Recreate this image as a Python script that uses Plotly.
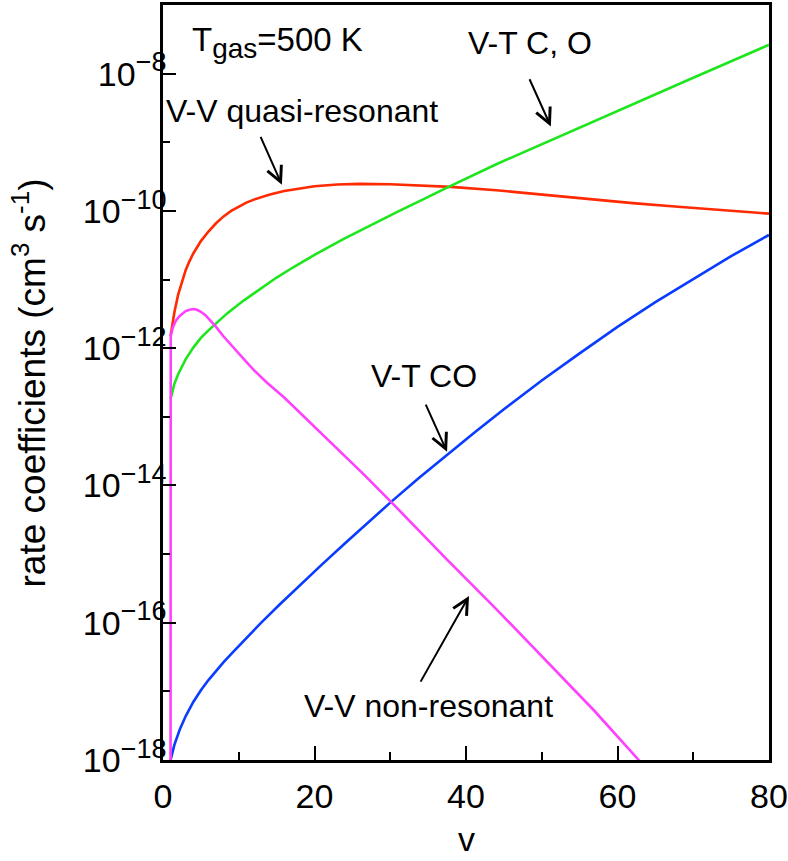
import plotly.graph_objects as go

# ---------------- data ----------------
v_vvq = [1, 1.5, 2, 2.5, 3, 3.5, 4, 5, 6, 7, 8, 9, 10, 11, 12, 14, 16, 18, 20, 23, 26,
         30, 34, 38, 44, 50, 56, 62, 68, 74, 80]
k_vvq = [1.51e-12, 3.31e-12, 6.03e-12, 9.55e-12, 1.38e-11, 1.86e-11, 2.40e-11, 3.63e-11,
         5.01e-11, 6.61e-11, 8.32e-11, 1.0e-10, 1.16e-10, 1.32e-10, 1.46e-10, 1.72e-10,
         1.95e-10, 2.14e-10, 2.29e-10, 2.43e-10, 2.48e-10, 2.45e-10, 2.37e-10, 2.24e-10,
         2.0e-10, 1.72e-10, 1.48e-10, 1.30e-10, 1.15e-10, 1.02e-10, 9.12e-11]

v_vtco_ = [1, 1.5, 2, 3, 4, 5, 6, 7, 8.5, 10.6, 13, 15, 17.2, 20, 23.8, 27, 31, 34, 37.5,
           44, 51, 57, 63, 70, 80]
k_vtco_ = [1.82e-13, 3.02e-13, 4.17e-13, 6.92e-13, 1.02e-12, 1.41e-12, 1.82e-12, 2.29e-12,
           3.24e-12, 4.90e-12, 7.59e-12, 1.07e-11, 1.51e-11, 2.29e-11, 3.89e-11, 5.89e-11,
           9.77e-11, 1.41e-10, 2.19e-10, 4.79e-10, 1.05e-9, 2.04e-9, 3.98e-9, 8.71e-9, 2.63e-8]

v_vtco = [1, 1.5, 2.2, 3, 4, 5, 6, 7, 8, 9.3, 11, 13, 15.4, 18, 21, 24, 27, 30, 33.7,
          37.5, 41, 45, 50, 55, 60, 65, 70, 75, 80]
k_vtco = [1.0e-18, 1.66e-18, 2.75e-18, 4.37e-18, 7.0e-18, 1.04e-17, 1.46e-17, 2.0e-17,
          2.66e-17, 3.80e-17, 6.03e-17, 1.01e-16, 1.84e-16, 3.47e-16, 7.08e-16, 1.43e-15,
          2.85e-15, 5.62e-15, 1.26e-14, 2.82e-14, 5.75e-14, 1.29e-13, 3.39e-13, 8.41e-13,
          2.04e-12, 4.68e-12, 1.02e-11, 2.19e-11, 4.47e-11]

v_vvn = [0.99, 1.02, 1.3, 1.7, 2.2, 3, 3.5, 4, 4.5, 5, 5.6, 6.2, 7, 8, 9, 10, 11, 12, 13.7,
         16, 19, 22.9, 26.5, 30.2, 37.4, 44, 50.6, 57, 62.8, 65]
k_vvn = [1e-20, 1.51e-12, 2.0e-12, 2.51e-12, 2.95e-12, 3.47e-12, 3.63e-12, 3.72e-12,
         3.63e-12, 3.39e-12, 3.02e-12, 2.57e-12, 2.04e-12, 1.48e-12, 1.10e-12, 8.32e-13,
         6.31e-13, 4.79e-13, 3.16e-13, 1.91e-13, 9.12e-14, 3.55e-14, 1.45e-14, 5.62e-15,
         8.51e-16, 1.58e-16, 2.82e-17, 5.13e-18, 1.0e-18, 5.01e-19]

x_ticks = [0, 20, 40, 60, 80]
y_tickvals = [1e-18, 1e-16, 1e-14, 1e-12, 1e-10, 1e-8]
y_exps = ["\u221218", "\u221216", "\u221214", "\u221212", "\u221210", "\u22128"]
y_minor = [1e-17, 1e-15, 1e-13, 1e-11, 1e-9, 1e-7]
y_all = [10.0 ** e for e in range(-18, -6)]

FONT = "Liberation Sans, Arial, Helvetica, sans-serif"
y_ticktext = ["10<sup><span style='font-size:27px'>%s</span></sup>" % e for e in y_exps]

fig = go.Figure()
for xs, ys, col in [(v_vvq, k_vvq, "#ff2a00"), (v_vtco_, k_vtco_, "#1ee61e"),
                    (v_vtco, k_vtco, "#0a3cff"), (v_vvn, k_vvn, "#ff40ff")]:
    fig.add_trace(go.Scatter(x=xs, y=ys, mode="lines", line=dict(color=col, width=2.6),
                             showlegend=False, hoverinfo="skip"))

fig.update_layout(
    width=788, height=861,
    margin=dict(l=163, r=19, t=5, b=101),
    paper_bgcolor="white", plot_bgcolor="white",
    font=dict(family=FONT, size=32, color="black"),
    xaxis=dict(range=[0, 80], tickvals=x_ticks, ticks="inside", ticklen=14, tickwidth=2,
               tickcolor="black", showline=True, linewidth=2.5, linecolor="black",
               mirror=True, showgrid=False, zeroline=False, automargin=False,
               tickfont=dict(size=34), ticklabelstandoff=4,
               minor=dict(tickvals=[10, 30, 50, 70], ticks="inside", ticklen=8, tickwidth=2,
                          tickcolor="black", showgrid=False)),
    yaxis=dict(type="log", range=[-18, -7], tickvals=y_tickvals, ticktext=y_ticktext,
               ticks="inside", ticklen=13, tickwidth=2, tickcolor="black",
               showline=True, linewidth=2.5, linecolor="black", mirror=True,
               showgrid=False, zeroline=False, automargin=False,
               tickfont=dict(size=34), ticklabelstandoff=-13,
               minor=dict(tickvals=y_minor, ticks="inside", ticklen=7, tickwidth=2,
                          tickcolor="black", showgrid=False)),
    xaxis2=dict(range=[0, 80], overlaying="x", side="top", anchor="y", automargin=False,
                tickvals=[10, 20, 30, 40, 50, 60, 70], ticks="inside", ticklen=11,
                tickwidth=2, tickcolor="black", showticklabels=False, showgrid=False,
                zeroline=False, showline=False),
    yaxis2=dict(type="log", range=[-18, -7], overlaying="y", side="right", anchor="x",
                automargin=False,
                tickvals=y_all, ticks="inside", ticklen=12, tickwidth=2, tickcolor="black",
                showticklabels=False, showgrid=False, zeroline=False, showline=False),
)

# axis titles
fig.add_annotation(x=-0.2195, y=0.5, xref="paper", yref="paper", textangle=-90,
                   xanchor="center", yanchor="middle", showarrow=False,
                   text="rate coefficients (cm<sup>3</sup> s<sup>-1</sup>)",
                   font=dict(family=FONT, size=37, color="black"))
fig.add_annotation(x=0.5, y=-0.105, xref="paper", yref="paper", xanchor="center",
                   yanchor="middle", showarrow=False, text="v",
                   font=dict(family=FONT, size=34, color="black"))

ann_font = dict(family=FONT, size=32, color="black")
fig.add_annotation(x=3.5, y=-7.55, xref="x", yref="y", xanchor="left", yanchor="middle",
                   text="T<sub><span style='font-size:28px'>gas</span></sub>=500 K",
                   showarrow=False, font=dict(family=FONT, size=33, color="black"))
fig.add_annotation(x=48.4, y=-7.55, xref="x", yref="y", text="V-T C, O", showarrow=False,
                   font=ann_font)
fig.add_annotation(x=0.1, y=-8.54, xref="x", yref="y", xanchor="left", text="V-V quasi-resonant",
                   showarrow=False, font=ann_font)
fig.add_annotation(x=34.45, y=-12.41, xref="x", yref="y", text="V-T CO", showarrow=False,
                   font=ann_font)
fig.add_annotation(x=35.05, y=-17.21, xref="x", yref="y", text="V-V non-resonant",
                   showarrow=False, font=ann_font)

arrows = [((12.8, -8.90), (15.7, -9.62)),
          ((48.3, -8.06), (51.2, -8.77)),
          ((34.6, -12.80), (37.5, -13.51)),
          ((33.9, -16.88), (40.4, -15.61))]
for (tx, ty), (hx, hy) in arrows:
    fig.add_annotation(x=hx, y=hy, ax=tx, ay=ty, xref="x", yref="y", axref="x", ayref="y",
                       text="", showarrow=True, arrowhead=5, arrowsize=1.5, arrowwidth=2,
                       arrowcolor="black")

fig.write_html("out.html")
